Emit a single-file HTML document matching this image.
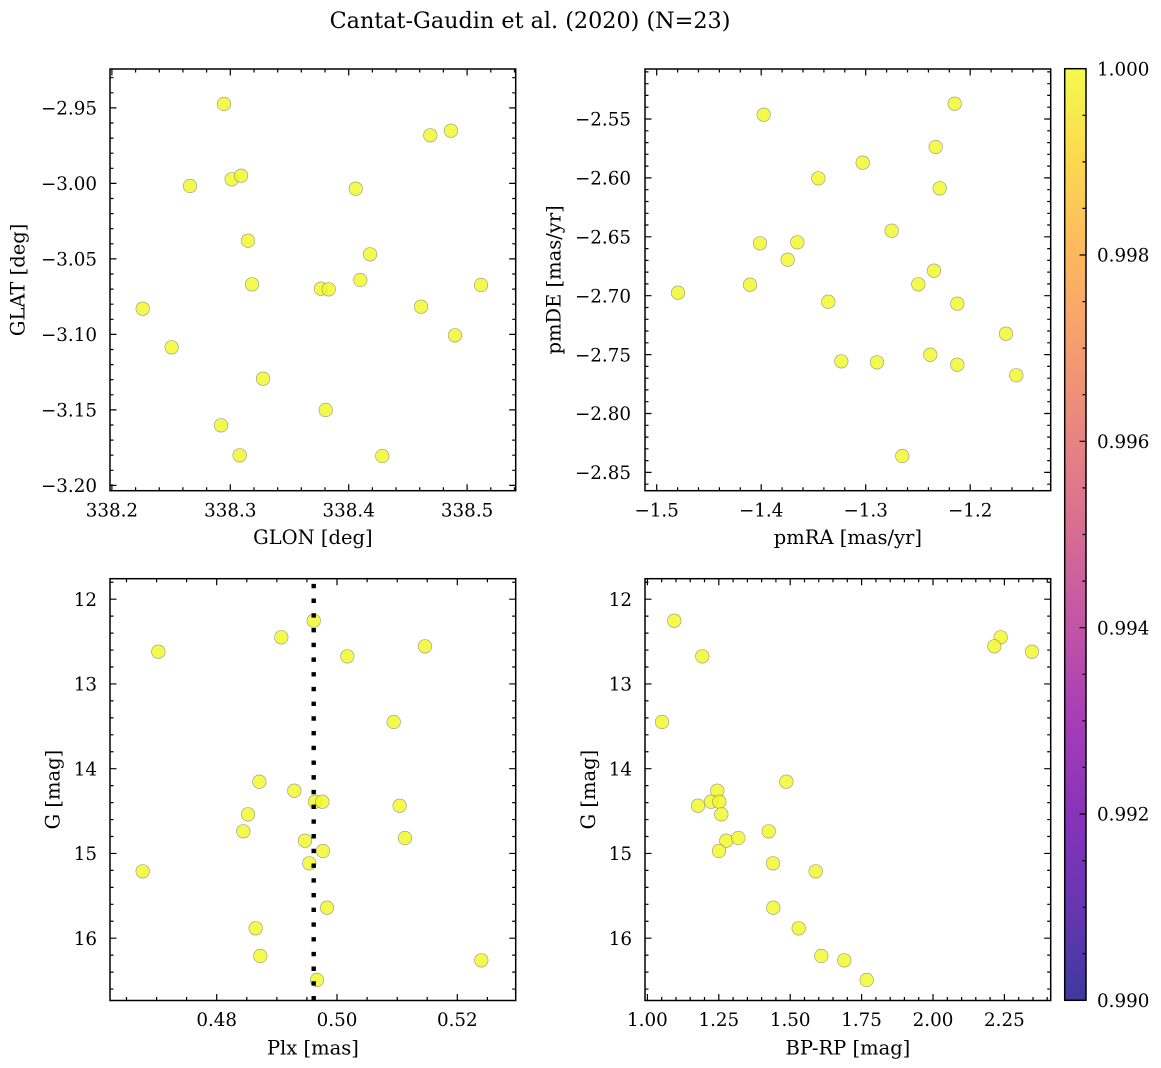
<!DOCTYPE html>
<html><head><meta charset="utf-8"><style>
html,body{margin:0;padding:0;background:#fff;}
svg{display:block;}
text{font-family:"DejaVu Serif","Liberation Serif",serif;fill:#000;}
.t{font-size:18.3px;}
.l{font-size:19.5px;}
</style></head><body>
<svg width="1161" height="1068" viewBox="0 0 1161 1068" xmlns="http://www.w3.org/2000/svg">
<defs>
<linearGradient id="pl" x1="0" y1="0" x2="0" y2="1">
<stop offset="0" stop-color="#f0f921"/><stop offset="0.1" stop-color="#fcce25"/><stop offset="0.2" stop-color="#fca636"/><stop offset="0.3" stop-color="#f2844b"/><stop offset="0.4" stop-color="#e16462"/><stop offset="0.5" stop-color="#cc4778"/><stop offset="0.6" stop-color="#b12a90"/><stop offset="0.7" stop-color="#8f0da4"/><stop offset="0.8" stop-color="#6a00a8"/><stop offset="0.9" stop-color="#41049d"/><stop offset="1" stop-color="#0d0887"/>
</linearGradient>
<clipPath id="c3"><rect x="110" y="578.7" width="405.7" height="421.8"/></clipPath>
</defs>
<rect width="1161" height="1068" fill="#fff"/>

<text x="530" y="28" text-anchor="middle" style="font-size:22.3px">Cantat-Gaudin et al. (2020) (N=23)</text>

<!-- markers -->
<g fill="#f0f921" fill-opacity="0.8" stroke="#808080" stroke-opacity="0.8" stroke-width="0.6">
<!-- P1 -->
<circle cx="224" cy="104" r="6.8"/><circle cx="430.3" cy="135.3" r="6.8"/><circle cx="451" cy="130.7" r="6.8"/><circle cx="190" cy="186" r="6.8"/><circle cx="231.7" cy="179.3" r="6.8"/><circle cx="241" cy="175.7" r="6.8"/><circle cx="355.7" cy="188.7" r="6.8"/><circle cx="248" cy="240.7" r="6.8"/><circle cx="370" cy="254.3" r="6.8"/><circle cx="252" cy="284.3" r="6.8"/><circle cx="321" cy="288.7" r="6.8"/><circle cx="328.7" cy="289.3" r="6.8"/><circle cx="360.3" cy="280" r="6.8"/><circle cx="481" cy="285" r="6.8"/><circle cx="142.7" cy="308.7" r="6.8"/><circle cx="421" cy="306.7" r="6.8"/><circle cx="455" cy="335.3" r="6.8"/><circle cx="171.7" cy="347.3" r="6.8"/><circle cx="263" cy="378.7" r="6.8"/><circle cx="325.7" cy="410" r="6.8"/><circle cx="221" cy="425.3" r="6.8"/><circle cx="239.7" cy="455.3" r="6.8"/><circle cx="382.3" cy="456" r="6.8"/>
<!-- P2 -->
<circle cx="954.7" cy="103.7" r="6.8"/><circle cx="763.7" cy="114.7" r="6.8"/><circle cx="935.7" cy="147" r="6.8"/><circle cx="862.7" cy="162.7" r="6.8"/><circle cx="818.3" cy="178.3" r="6.8"/><circle cx="939.7" cy="188.3" r="6.8"/><circle cx="891.7" cy="230.7" r="6.8"/><circle cx="760" cy="243.3" r="6.8"/><circle cx="797.3" cy="242.3" r="6.8"/><circle cx="787.7" cy="259.7" r="6.8"/><circle cx="934" cy="270.7" r="6.8"/><circle cx="750" cy="284.7" r="6.8"/><circle cx="918.3" cy="284.3" r="6.8"/><circle cx="678" cy="292.7" r="6.8"/><circle cx="828.3" cy="301.7" r="6.8"/><circle cx="957.3" cy="303.7" r="6.8"/><circle cx="1006" cy="333.7" r="6.8"/><circle cx="930.3" cy="354.7" r="6.8"/><circle cx="841.3" cy="361.3" r="6.8"/><circle cx="877" cy="362.3" r="6.8"/><circle cx="957.3" cy="364.7" r="6.8"/><circle cx="1016.3" cy="375.3" r="6.8"/><circle cx="902.3" cy="456" r="6.8"/>
<!-- P3 -->
<circle cx="313.7" cy="620.7" r="6.8"/><circle cx="281.3" cy="637.3" r="6.8"/><circle cx="158.3" cy="651.7" r="6.8"/><circle cx="347.3" cy="656.3" r="6.8"/><circle cx="425" cy="646.3" r="6.8"/><circle cx="393.7" cy="722" r="6.8"/><circle cx="259.3" cy="781.7" r="6.8"/><circle cx="294.3" cy="790.7" r="6.8"/><circle cx="315" cy="801.7" r="6.8"/><circle cx="322.3" cy="801.7" r="6.8"/><circle cx="399.7" cy="805.7" r="6.8"/><circle cx="248" cy="814.3" r="6.8"/><circle cx="243.3" cy="831.3" r="6.8"/><circle cx="305" cy="840.7" r="6.8"/><circle cx="405" cy="838" r="6.8"/><circle cx="323" cy="851" r="6.8"/><circle cx="309.3" cy="863.3" r="6.8"/><circle cx="142.7" cy="871.3" r="6.8"/><circle cx="327" cy="907.7" r="6.8"/><circle cx="255.7" cy="928.3" r="6.8"/><circle cx="260.3" cy="956" r="6.8"/><circle cx="481.3" cy="960.3" r="6.8"/><circle cx="317" cy="980" r="6.8"/>
<!-- P4 -->
<circle cx="674.3" cy="620.7" r="6.8"/><circle cx="702.3" cy="656.3" r="6.8"/><circle cx="1000.7" cy="637.3" r="6.8"/><circle cx="994.3" cy="646.3" r="6.8"/><circle cx="1032" cy="651.7" r="6.8"/><circle cx="662" cy="722" r="6.8"/><circle cx="786.3" cy="781.7" r="6.8"/><circle cx="717.3" cy="790.7" r="6.8"/><circle cx="711" cy="801.7" r="6.8"/><circle cx="719.3" cy="801.7" r="6.8"/><circle cx="698" cy="805.7" r="6.8"/><circle cx="721.3" cy="814.3" r="6.8"/><circle cx="768.7" cy="831.3" r="6.8"/><circle cx="726.3" cy="840.7" r="6.8"/><circle cx="738.3" cy="838" r="6.8"/><circle cx="719" cy="851" r="6.8"/><circle cx="773" cy="863.3" r="6.8"/><circle cx="815.7" cy="871.3" r="6.8"/><circle cx="773.3" cy="907.7" r="6.8"/><circle cx="798.7" cy="928.3" r="6.8"/><circle cx="821.3" cy="956" r="6.8"/><circle cx="844.3" cy="960.3" r="6.8"/><circle cx="866.7" cy="980" r="6.8"/>
</g>

<!-- dotted line P3 -->
<line x1="313.7" y1="578.7" x2="313.7" y2="1000.5" stroke="#000" stroke-width="4.4" stroke-dasharray="4.4 10.32" stroke-dashoffset="9.6" clip-path="url(#c3)"/>

<!-- axes frames -->
<g fill="none" stroke="#000" stroke-width="1.5">
<rect x="110" y="69" width="405.7" height="421.7"/>
<rect x="645" y="69" width="405.7" height="421.7"/>
<rect x="110" y="578.7" width="405.7" height="421.8"/>
<rect x="645" y="578.7" width="405.7" height="421.8"/>
</g>

<!-- ticks -->
<g fill="none" stroke="#000" stroke-width="1.2">
<!-- P1 majors -->
<path d="M111.9 490.7v-6.5M230.3 490.7v-6.5M348.7 490.7v-6.5M467.1 490.7v-6.5M111.9 69v6.5M230.3 69v6.5M348.7 69v6.5M467.1 69v6.5
M110 107.9h6.5M110 183.4h6.5M110 258.9h6.5M110 334.4h6.5M110 409.9h6.5M110 485.4h6.5
M515.7 107.9h-6.5M515.7 183.4h-6.5M515.7 258.9h-6.5M515.7 334.4h-6.5M515.7 409.9h-6.5M515.7 485.4h-6.5"/>
<!-- P1 minors -->
<path d="M135.6 490.7v-3.5M159.3 490.7v-3.5M182.9 490.7v-3.5M206.6 490.7v-3.5M254 490.7v-3.5M277.7 490.7v-3.5M301.3 490.7v-3.5M325 490.7v-3.5M372.4 490.7v-3.5M396.1 490.7v-3.5M419.7 490.7v-3.5M443.4 490.7v-3.5M490.8 490.7v-3.5M514.5 490.7v-3.5
M135.6 69v3.5M159.3 69v3.5M182.9 69v3.5M206.6 69v3.5M254 69v3.5M277.7 69v3.5M301.3 69v3.5M325 69v3.5M372.4 69v3.5M396.1 69v3.5M419.7 69v3.5M443.4 69v3.5M490.8 69v3.5M514.5 69v3.5
M110 77.7h3.5M110 92.8h3.5M110 123h3.5M110 138.1h3.5M110 153.2h3.5M110 168.3h3.5M110 198.5h3.5M110 213.6h3.5M110 228.7h3.5M110 243.8h3.5M110 274h3.5M110 289.1h3.5M110 304.2h3.5M110 319.3h3.5M110 349.5h3.5M110 364.6h3.5M110 379.7h3.5M110 394.8h3.5M110 425h3.5M110 440.1h3.5M110 455.2h3.5M110 470.3h3.5
M515.7 77.7h-3.5M515.7 92.8h-3.5M515.7 123h-3.5M515.7 138.1h-3.5M515.7 153.2h-3.5M515.7 168.3h-3.5M515.7 198.5h-3.5M515.7 213.6h-3.5M515.7 228.7h-3.5M515.7 243.8h-3.5M515.7 274h-3.5M515.7 289.1h-3.5M515.7 304.2h-3.5M515.7 319.3h-3.5M515.7 349.5h-3.5M515.7 364.6h-3.5M515.7 379.7h-3.5M515.7 394.8h-3.5M515.7 425h-3.5M515.7 440.1h-3.5M515.7 455.2h-3.5M515.7 470.3h-3.5"/>

<!-- P2 majors -->
<path d="M656.7 490.7v-6.5M761.2 490.7v-6.5M865.7 490.7v-6.5M970.2 490.7v-6.5M656.7 69v6.5M761.2 69v6.5M865.7 69v6.5M970.2 69v6.5
M645 119h6.5M645 177.9h6.5M645 236.8h6.5M645 295.7h6.5M645 354.6h6.5M645 413.5h6.5M645 472.4h6.5
M1050.7 119h-6.5M1050.7 177.9h-6.5M1050.7 236.8h-6.5M1050.7 295.7h-6.5M1050.7 354.6h-6.5M1050.7 413.5h-6.5M1050.7 472.4h-6.5"/>
<!-- P2 minors -->
<path d="M677.6 490.7v-3.5M698.5 490.7v-3.5M719.4 490.7v-3.5M740.3 490.7v-3.5M782.1 490.7v-3.5M803 490.7v-3.5M823.9 490.7v-3.5M844.8 490.7v-3.5M886.6 490.7v-3.5M907.5 490.7v-3.5M928.4 490.7v-3.5M949.3 490.7v-3.5M991.1 490.7v-3.5M1012 490.7v-3.5M1032.9 490.7v-3.5
M677.6 69v3.5M698.5 69v3.5M719.4 69v3.5M740.3 69v3.5M782.1 69v3.5M803 69v3.5M823.9 69v3.5M844.8 69v3.5M886.6 69v3.5M907.5 69v3.5M928.4 69v3.5M949.3 69v3.5M991.1 69v3.5M1012 69v3.5M1032.9 69v3.5
M645 71.9h3.5M645 83.7h3.5M645 95.4h3.5M645 107.2h3.5M645 130.8h3.5M645 142.6h3.5M645 154.3h3.5M645 166.1h3.5M645 189.7h3.5M645 201.5h3.5M645 213.3h3.5M645 225h3.5M645 248.6h3.5M645 260.4h3.5M645 272.1h3.5M645 283.9h3.5M645 307.5h3.5M645 319.3h3.5M645 331h3.5M645 342.8h3.5M645 366.4h3.5M645 378.2h3.5M645 389.9h3.5M645 401.7h3.5M645 425.3h3.5M645 437.1h3.5M645 448.8h3.5M645 460.6h3.5M645 484.2h3.5
M1050.7 71.9h-3.5M1050.7 83.7h-3.5M1050.7 95.4h-3.5M1050.7 107.2h-3.5M1050.7 130.8h-3.5M1050.7 142.6h-3.5M1050.7 154.3h-3.5M1050.7 166.1h-3.5M1050.7 189.7h-3.5M1050.7 201.5h-3.5M1050.7 213.3h-3.5M1050.7 225h-3.5M1050.7 248.6h-3.5M1050.7 260.4h-3.5M1050.7 272.1h-3.5M1050.7 283.9h-3.5M1050.7 307.5h-3.5M1050.7 319.3h-3.5M1050.7 331h-3.5M1050.7 342.8h-3.5M1050.7 366.4h-3.5M1050.7 378.2h-3.5M1050.7 389.9h-3.5M1050.7 401.7h-3.5M1050.7 425.3h-3.5M1050.7 437.1h-3.5M1050.7 448.8h-3.5M1050.7 460.6h-3.5M1050.7 484.2h-3.5"/>

<!-- P3 majors -->
<path d="M216.7 1000.5v-6.5M337 1000.5v-6.5M457.3 1000.5v-6.5M216.7 578.7v6.5M337 578.7v6.5M457.3 578.7v6.5
M110 599.2h6.5M110 683.95h6.5M110 768.7h6.5M110 853.45h6.5M110 938.2h6.5
M515.7 599.2h-6.5M515.7 683.95h-6.5M515.7 768.7h-6.5M515.7 853.45h-6.5M515.7 938.2h-6.5"/>
<!-- P3 minors -->
<path d="M126.5 1000.5v-3.5M156.6 1000.5v-3.5M186.6 1000.5v-3.5M246.8 1000.5v-3.5M276.9 1000.5v-3.5M306.9 1000.5v-3.5M367.1 1000.5v-3.5M397.2 1000.5v-3.5M427.2 1000.5v-3.5M487.4 1000.5v-3.5
M126.5 578.7v3.5M156.6 578.7v3.5M186.6 578.7v3.5M246.8 578.7v3.5M276.9 578.7v3.5M306.9 578.7v3.5M367.1 578.7v3.5M397.2 578.7v3.5M427.2 578.7v3.5M487.4 578.7v3.5
M110 582.25h3.5M110 616.15h3.5M110 633.1h3.5M110 650.05h3.5M110 667h3.5M110 700.9h3.5M110 717.85h3.5M110 734.8h3.5M110 751.75h3.5M110 785.65h3.5M110 802.6h3.5M110 819.55h3.5M110 836.5h3.5M110 870.4h3.5M110 887.35h3.5M110 904.3h3.5M110 921.25h3.5M110 955.15h3.5M110 972.1h3.5M110 989.05h3.5
M515.7 582.25h-3.5M515.7 616.15h-3.5M515.7 633.1h-3.5M515.7 650.05h-3.5M515.7 667h-3.5M515.7 700.9h-3.5M515.7 717.85h-3.5M515.7 734.8h-3.5M515.7 751.75h-3.5M515.7 785.65h-3.5M515.7 802.6h-3.5M515.7 819.55h-3.5M515.7 836.5h-3.5M515.7 870.4h-3.5M515.7 887.35h-3.5M515.7 904.3h-3.5M515.7 921.25h-3.5M515.7 955.15h-3.5M515.7 972.1h-3.5M515.7 989.05h-3.5"/>

<!-- P4 majors -->
<path d="M647.4 1000.5v-6.5M718.8 1000.5v-6.5M790.2 1000.5v-6.5M861.6 1000.5v-6.5M933 1000.5v-6.5M1004.4 1000.5v-6.5
M647.4 578.7v6.5M718.8 578.7v6.5M790.2 578.7v6.5M861.6 578.7v6.5M933 578.7v6.5M1004.4 578.7v6.5
M645 599.2h6.5M645 683.95h6.5M645 768.7h6.5M645 853.45h6.5M645 938.2h6.5
M1050.7 599.2h-6.5M1050.7 683.95h-6.5M1050.7 768.7h-6.5M1050.7 853.45h-6.5M1050.7 938.2h-6.5"/>
<!-- P4 minors -->
<path d="M661.7 1000.5v-3.5M676 1000.5v-3.5M690.2 1000.5v-3.5M704.5 1000.5v-3.5M733.1 1000.5v-3.5M747.4 1000.5v-3.5M761.6 1000.5v-3.5M775.9 1000.5v-3.5M804.5 1000.5v-3.5M818.8 1000.5v-3.5M833 1000.5v-3.5M847.3 1000.5v-3.5M875.9 1000.5v-3.5M890.2 1000.5v-3.5M904.4 1000.5v-3.5M918.7 1000.5v-3.5M947.3 1000.5v-3.5M961.6 1000.5v-3.5M975.8 1000.5v-3.5M990.1 1000.5v-3.5M1018.7 1000.5v-3.5M1033 1000.5v-3.5M1047.2 1000.5v-3.5
M661.7 578.7v3.5M676 578.7v3.5M690.2 578.7v3.5M704.5 578.7v3.5M733.1 578.7v3.5M747.4 578.7v3.5M761.6 578.7v3.5M775.9 578.7v3.5M804.5 578.7v3.5M818.8 578.7v3.5M833 578.7v3.5M847.3 578.7v3.5M875.9 578.7v3.5M890.2 578.7v3.5M904.4 578.7v3.5M918.7 578.7v3.5M947.3 578.7v3.5M961.6 578.7v3.5M975.8 578.7v3.5M990.1 578.7v3.5M1018.7 578.7v3.5M1033 578.7v3.5M1047.2 578.7v3.5
M645 582.25h3.5M645 616.15h3.5M645 633.1h3.5M645 650.05h3.5M645 667h3.5M645 700.9h3.5M645 717.85h3.5M645 734.8h3.5M645 751.75h3.5M645 785.65h3.5M645 802.6h3.5M645 819.55h3.5M645 836.5h3.5M645 870.4h3.5M645 887.35h3.5M645 904.3h3.5M645 921.25h3.5M645 955.15h3.5M645 972.1h3.5M645 989.05h3.5
M1050.7 582.25h-3.5M1050.7 616.15h-3.5M1050.7 633.1h-3.5M1050.7 650.05h-3.5M1050.7 667h-3.5M1050.7 700.9h-3.5M1050.7 717.85h-3.5M1050.7 734.8h-3.5M1050.7 751.75h-3.5M1050.7 785.65h-3.5M1050.7 802.6h-3.5M1050.7 819.55h-3.5M1050.7 836.5h-3.5M1050.7 870.4h-3.5M1050.7 887.35h-3.5M1050.7 904.3h-3.5M1050.7 921.25h-3.5M1050.7 955.15h-3.5M1050.7 972.1h-3.5M1050.7 989.05h-3.5"/>
</g>

<!-- colorbar -->
<rect x="1064.7" y="68.7" width="21.3" height="931.6" fill="url(#pl)" fill-opacity="0.8"/>
<rect x="1064.7" y="68.7" width="21.3" height="931.6" fill="none" stroke="#000" stroke-width="1.5"/>
<g fill="none" stroke="#000" stroke-width="1.2">
<path d="M1086 255h-6.5M1086 441.3h-6.5M1086 627.7h-6.5M1086 814h-6.5"/>
<path d="M1086 115.3h-3.5M1086 161.9h-3.5M1086 208.4h-3.5M1086 301.6h-3.5M1086 348.2h-3.5M1086 394.7h-3.5M1086 487.9h-3.5M1086 534.5h-3.5M1086 581.1h-3.5M1086 674.3h-3.5M1086 720.8h-3.5M1086 767.4h-3.5M1086 860.6h-3.5M1086 907.2h-3.5M1086 953.7h-3.5"/>
</g>
<g class="t">
<text x="1097" y="75.4">1.000</text>
<text x="1097" y="261.7">0.998</text>
<text x="1097" y="448">0.996</text>
<text x="1097" y="634.4">0.994</text>
<text x="1097" y="820.7">0.992</text>
<text x="1097" y="1007">0.990</text>
</g>

<!-- tick labels -->
<g class="t" text-anchor="middle">
<text x="111.9" y="516.5">338.2</text><text x="230.3" y="516.5">338.3</text><text x="348.7" y="516.5">338.4</text><text x="467.1" y="516.5">338.5</text>
<text x="656.7" y="516.5">−1.5</text><text x="761.2" y="516.5">−1.4</text><text x="865.7" y="516.5">−1.3</text><text x="970.2" y="516.5">−1.2</text>
<text x="216.7" y="1026">0.48</text><text x="337" y="1026">0.50</text><text x="457.3" y="1026">0.52</text>
<text x="647.4" y="1026">1.00</text><text x="718.8" y="1026">1.25</text><text x="790.2" y="1026">1.50</text><text x="861.6" y="1026">1.75</text><text x="933" y="1026">2.00</text><text x="1004.4" y="1026">2.25</text>
</g>
<g class="t" text-anchor="end">
<text x="97" y="114.6">−2.95</text><text x="97" y="190.1">−3.00</text><text x="97" y="265.6">−3.05</text><text x="97" y="341.1">−3.10</text><text x="97" y="416.6">−3.15</text><text x="97" y="492.1">−3.20</text>
<text x="631" y="125.7">−2.55</text><text x="631" y="184.6">−2.60</text><text x="631" y="243.5">−2.65</text><text x="631" y="302.4">−2.70</text><text x="631" y="361.3">−2.75</text><text x="631" y="420.2">−2.80</text><text x="631" y="479.1">−2.85</text>
<text x="97" y="605.9">12</text><text x="97" y="690.6">13</text><text x="97" y="775.4">14</text><text x="97" y="860.1">15</text><text x="97" y="944.9">16</text>
<text x="632" y="605.9">12</text><text x="632" y="690.6">13</text><text x="632" y="775.4">14</text><text x="632" y="860.1">15</text><text x="632" y="944.9">16</text>
</g>

<!-- axis labels -->
<g class="l" text-anchor="middle">
<text x="312.9" y="544">GLON [deg]</text>
<text x="847.9" y="544">pmRA [mas/yr]</text>
<text x="312.9" y="1054.5">Plx [mas]</text>
<text x="847.9" y="1054.5">BP-RP [mag]</text>
<text transform="translate(24.5,279.9) rotate(-90)">GLAT [deg]</text>
<text transform="translate(560.5,279.9) rotate(-90)">pmDE [mas/yr]</text>
<text transform="translate(59.5,789.6) rotate(-90)">G [mag]</text>
<text transform="translate(595,789.6) rotate(-90)">G [mag]</text>
</g>
</svg>
</body></html>
